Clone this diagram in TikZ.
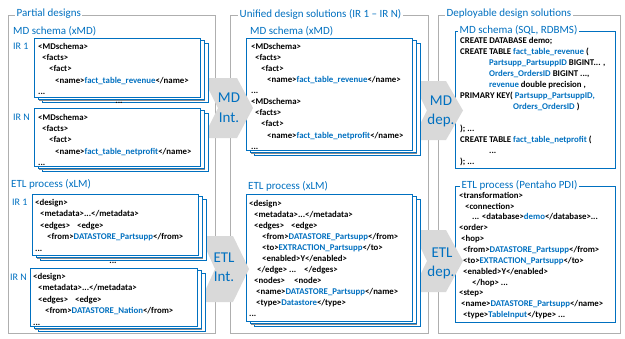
\documentclass[tikz,border=0pt]{standalone}
\usepackage{fontspec}
\setmainfont{Carlito}
\definecolor{bl}{RGB}{0,112,192}
\definecolor{fr}{RGB}{175,175,175}
\definecolor{chev}{RGB}{217,217,217}
\newcommand\hl[1]{\textcolor{bl}{#1}}
\newcommand\ind[1]{\hspace*{#1pt}}
\newcommand\fl{\rule{0pt}{7pt}}
\newcommand\stk[4]{%
  \foreach \d in {8,4,0}{%
    \fill[black!45] (#1+\d+0.8,#2+\d*0.625+1.2) rectangle (#3+\d+0.8,#4+\d*0.625+1.2);
    \draw[boxline,fill=white] (#1+\d,#2+\d*0.625) rectangle (#3+\d,#4+\d*0.625);
  }}
\begin{document}
\begin{tikzpicture}[x=1pt,y=-1pt,
  frame/.style={draw=fr,line width=0.8pt},
  gtitle/.style={text=bl,font=\fontsize{11}{13}\selectfont,fill=white,inner xsep=1.5pt,inner ysep=0.3pt,anchor=west},
  sub/.style={text=bl,font=\fontsize{11}{13}\selectfont,inner sep=0pt,anchor=west},
  irlab/.style={text=bl,font=\fontsize{10}{12}\selectfont,inner sep=0pt,anchor=west},
  xml/.style={font=\bfseries\fontsize{8.8}{#1}\selectfont,align=left,inner sep=0pt,anchor=north west},
  xml/.default=11.3,
  boxline/.style={draw=bl,line width=0.9pt},
  chevron/.style={fill=chev,draw=none},
  chevtext/.style={text=bl,font=\fontsize{15}{19}\selectfont,inner sep=0pt},
  dots/.style={font=\bfseries\fontsize{9}{10}\selectfont,inner sep=0pt},
]
\useasboundingbox (0,0) rectangle (625,338);

% group frames
\draw[frame] (8,15) rectangle (215,333);
\draw[frame] (230,15) rectangle (428,333);
\draw[frame] (438,15) rectangle (620,333);
\node[gtitle] (t1) at (15,14) {Partial designs};
\node[gtitle] (t2) at (238,14) {Unified design solutions (IR 1 – IR N)};
\node[gtitle] (t3) at (445,14) {Deployable design solutions};

% ---------- group 3 ----------
\draw[boxline] (455,31) rectangle (615,168);
\node[xml=11.05] (g3md) at (460,36) {\fl CREATE DATABASE demo;\\
CREATE TABLE \hl{fact\_table\_revenue} (\\
\ind{29}\hl{Partsupp\_PartsuppID} BIGINT... ,\\
\ind{29}\hl{Orders\_OrdersID} BIGINT ...,\\
\ind{29}\hl{revenue} double precision ,\\
PRIMARY KEY( \hl{Partsupp\_PartsuppID,}\\
\ind{53}\hl{Orders\_OrdersID} )\\
\mbox{}\\
); ...\\
CREATE TABLE \hl{fact\_table\_netprofit} (\\
\ind{29}...\\
); ...};
\node[gtitle] (s5) at (458,30) {MD schema (SQL, RDBMS)};

\draw[boxline] (455,186) rectangle (615,322);
\node[xml=10.85] (g3etl) at (459,191) {\fl <transformation>\\
\ind{6}<connection>\\
\ind{13}... <database>\hl{demo}</database>...\\
<order>\\
\ind{2}<hop>\\
\ind{4}<from>\hl{DATASTORE\_Partsupp}</from>\\
\ind{4}<to>\hl{EXTRACTION\_Partsupp}</to>\\
\ind{4}<enabled>Y</enabled>\\
\ind{13}</hop> ...\\
<step>\\
\ind{2}<name>\hl{DATASTORE\_Partsupp}</name>\\
\ind{4}<type>\hl{TableInput}</type> ...};
\node[gtitle] (s6) at (460,185) {ETL process (Pentaho PDI)};

% deployment chevrons
\fill[chevron] (412,81) -- (446,81) -- (463,110.5) -- (446,140) -- (412,140) -- (427,110.5) -- cycle;
\node[chevtext] (mddep1) at (441,101) {MD};
\node[chevtext] (mddep2) at (441,120) {dep.};
\fill[chevron] (412,230) -- (446,230) -- (463,261) -- (446,292) -- (412,292) -- (427,261) -- cycle;
\node[chevtext] (etldep1) at (442,253) {ETL};
\node[chevtext] (etldep2) at (441,272) {dep.};

% ---------- group 2 ----------
\node[sub] (s3) at (250,31) {MD schema (xMD)};
\stk{246}{38}{412}{150}
\node[xml=11.1] (g2md) at (251,42) {\fl <MDschema>\\
\ind{4}<facts>\\
\ind{10}<fact>\\
\ind{16}<name>\hl{fact\_table\_revenue}</name>\\
...\\
<MDschema>\\
\ind{4}<facts>\\
\ind{10}<fact>\\
\ind{16}<name>\hl{fact\_table\_netprofit}</name>\\
...};

\node[sub] (s4) at (248,186) {ETL process (xLM)};
\stk{246}{194}{412}{321}
\node[xml=11] (g2etl) at (249,199) {\fl <design>\\
\ind{5}<metadata>...</metadata>\\
\ind{5}\makebox[37pt][l]{<edges>}<edge>\\
\ind{13}<from>\hl{DATASTORE\_Partsupp}</from>\\
\ind{13}<to>\hl{EXTRACTION\_Partsupp}</to>\\
\ind{13}<enabled>Y</enabled>\\
\ind{8}\makebox[47pt][l]{</edge> ...}</edges>\\
\ind{5}\makebox[40pt][l]{<nodes>}<node>\\
\ind{7}<name>\hl{DATASTORE\_Partsupp}</name>\\
\ind{7}<type>\hl{Datastore}</type>\\
...};

% integration chevrons
\fill[chevron] (203,78) -- (237,78) -- (253,108) -- (237,138) -- (203,138) -- (218,108) -- cycle;
\node[chevtext] (mdint1) at (229,98) {MD};
\node[chevtext] (mdint2) at (229,118) {Int.};
\fill[chevron] (200,236) -- (233,236) -- (249,269) -- (233,302) -- (200,302) -- (215,269) -- cycle;
\node[chevtext] (etlint1) at (224,258) {ETL};
\node[chevtext] (etlint2) at (224,277) {Int.};

% ---------- group 1 ----------
\node[sub] (s1) at (13,31) {MD schema (xMD)};
\node[irlab] (ir1a) at (13,46) {IR 1};
\stk{34}{38}{200}{97}
\node[xml] (g1md1) at (38,42) {\fl <MDschema>\\
\ind{4}<facts>\\
\ind{11}<fact>\\
\ind{17}<name>\hl{fact\_table\_revenue}</name>\\
...};
\node[dots] (d1) at (119,103) {...};
\node[irlab] (irna) at (13,117) {IR N};
\stk{34}{108}{200}{166}
\node[xml] (g1md2) at (38,113) {\fl <MDschema>\\
\ind{4}<facts>\\
\ind{11}<fact>\\
\ind{17}<name>\hl{fact\_table\_netprofit}</name>\\
...};

\node[sub] (s2) at (11,184) {ETL process (xLM)};
\node[irlab] (ir1b) at (12,202) {IR 1};
\stk{32}{194}{198}{255}
\node[xml=11.5] (g1etl1) at (35,198) {\fl <design>\\
\ind{5}<metadata>...</metadata>\\
\ind{5}\makebox[37pt][l]{<edges>}<edge>\\
\ind{12}<from>\hl{DATASTORE\_Partsupp}</from>\\
...};
\node[dots] (d2) at (113,263) {...};
\node[irlab] (irnb) at (10,277) {IR N};
\stk{30}{268}{197}{326}
\node[xml=11.5] (g1etl2) at (33,272) {\fl <design>\\
\ind{5}<metadata>...</metadata>\\
\ind{5}\makebox[37pt][l]{<edges>}<edge>\\
\ind{12}<from>\hl{DATASTORE\_Nation}</from>\\
...};
\end{tikzpicture}
\end{document}
